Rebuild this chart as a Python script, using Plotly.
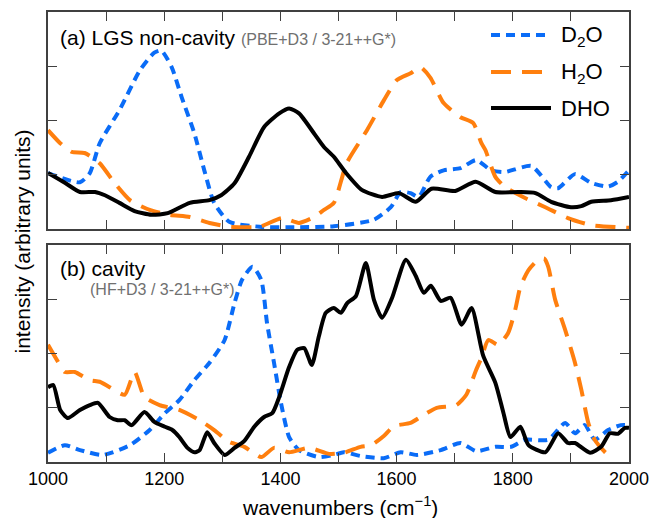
import plotly.graph_objects as go

# ---------------- data ----------------
# (a) LGS non-cavity
a_d2o_x = [1000, 1055, 1072, 1089, 1123, 1158, 1183, 1195, 1213, 1230, 1252, 1269, 1286, 1312, 1364, 1430, 1492,
           1561, 1590, 1607, 1624, 1638, 1658, 1681, 1710, 1737, 1763, 1787, 1832, 1866, 1878, 1907, 1935, 1964, 1981, 2000]
a_d2o_y = [1.03, 0.86, 1.03, 1.58, 2.19, 2.92, 3.25, 3.29, 2.98, 2.43, 1.76, 1.08, 0.48, 0.13, 0.04, 0.03, 0.05,
           0.17, 0.40, 0.68, 0.66, 0.59, 0.96, 1.08, 1.12, 1.27, 1.08, 1.05, 1.16, 0.77, 0.75, 1.01, 0.85, 0.78, 0.87, 1.08]

a_h2o_x = [1000, 1021, 1041, 1063, 1089, 1115, 1141, 1175, 1209, 1244, 1278, 1312, 1364, 1403, 1432, 1458, 1475,
           1492, 1514, 1549, 1578, 1600, 1624, 1641, 1658, 1681, 1710, 1732, 1746, 1753, 1770, 1787, 1821, 1856, 1895, 1935, 2000]
a_h2o_y = [1.82, 1.58, 1.42, 1.40, 1.21, 0.84, 0.53, 0.35, 0.26, 0.22, 0.11, 0.04, 0.04, 0.20, 0.11, 0.22, 0.35,
           0.48, 1.21, 1.82, 2.37, 2.74, 2.87, 2.98, 2.79, 2.32, 2.06, 1.95, 1.58, 1.45, 0.96, 0.77, 0.57, 0.40, 0.20, 0.07, 0.02]

a_dho_x = [1000, 1029, 1055, 1081, 1098, 1123, 1149, 1178, 1206, 1244, 1278, 1298, 1321, 1346, 1372, 1398, 1415, 1432,
           1458, 1475, 1492, 1513, 1540, 1575, 1604, 1633, 1660, 1701, 1736, 1770, 1810, 1839, 1866, 1900, 1918, 1935, 1969, 2000]
a_dho_y = [1.03, 0.85, 0.68, 0.68, 0.62, 0.48, 0.33, 0.26, 0.29, 0.48, 0.53, 0.62, 0.84, 1.33, 1.88, 2.13, 2.22, 2.13,
           1.76, 1.51, 1.33, 1.03, 0.72, 0.59, 0.66, 0.50, 0.74, 0.70, 0.87, 0.68, 0.68, 0.66, 0.50, 0.40, 0.42, 0.50, 0.53, 0.59]

# (b) cavity
b_d2o_x = [1000, 1029, 1055, 1094, 1141, 1175, 1201, 1226, 1252, 1278, 1304, 1321, 1334, 1352, 1367, 1377, 1389, 1401,
           1415, 1432, 1466, 1492, 1509, 1538, 1578, 1607, 1635, 1676, 1710, 1737, 1770, 1797, 1821, 1861, 1890, 1907,
           1924, 1941, 1964, 1986, 2000]
b_d2o_y = [0.17, 0.31, 0.22, 0.13, 0.31, 0.59, 0.90, 1.14, 1.51, 1.83, 2.25, 2.93, 3.36, 3.60, 3.36, 2.56, 1.83, 1.09,
           0.46, 0.22, 0.09, 0.13, 0.18, 0.11, 0.07, 0.18, 0.13, 0.22, 0.35, 0.20, 0.28, 0.28, 0.41, 0.41, 0.72, 0.53,
           0.68, 0.41, 0.59, 0.68, 0.68]

b_h2o_x = [1000, 1017, 1029, 1046, 1072, 1089, 1106, 1132, 1149, 1166, 1192, 1226, 1261, 1286, 1312, 1338, 1367, 1389,
           1415, 1449, 1484, 1509, 1538, 1556, 1578, 1595, 1624, 1647, 1669, 1703, 1720, 1737, 1746, 1758, 1775, 1792,
           1804, 1813, 1827, 1844, 1854, 1861, 1873, 1890, 1907, 1918, 1930, 1941, 1959, 1969]
b_h2o_y = [2.16, 1.85, 1.66, 1.66, 1.51, 1.48, 1.38, 1.24, 1.66, 1.20, 1.05, 0.96, 0.77, 0.59, 0.37, 0.28, 0.09, 0.26,
           0.18, 0.26, 0.15, 0.17, 0.28, 0.31, 0.48, 0.66, 0.72, 0.87, 1.00, 1.05, 1.24, 1.70, 1.92, 2.25, 2.16, 2.38,
           2.80, 3.23, 3.54, 3.73, 3.75, 3.60, 2.99, 2.44, 1.83, 1.33, 0.72, 0.41, 0.18, 0.09]

b_dho_x = [1000, 1009, 1021, 1034, 1055, 1072, 1086, 1106, 1120, 1132, 1144, 1166, 1183, 1201, 1214, 1226, 1240, 1252,
           1261, 1274, 1286, 1304, 1321, 1338, 1355, 1372, 1386, 1398, 1415, 1429, 1441, 1454, 1466, 1478, 1492, 1504,
           1515, 1530, 1547, 1561, 1575, 1592, 1616, 1633, 1647, 1659, 1676, 1693, 1712, 1729, 1749, 1770, 1784, 1796,
           1813, 1827, 1856, 1878, 1895, 1907, 1933, 1952, 1967, 1981, 1993, 2000]
b_dho_y = [1.38, 1.42, 0.96, 0.81, 0.96, 1.05, 1.09, 0.83, 0.77, 0.77, 0.68, 0.92, 0.74, 0.65, 0.59, 0.46, 0.26, 0.18,
           0.22, 0.55, 0.35, 0.13, 0.26, 0.39, 0.65, 0.83, 0.90, 1.20, 1.75, 2.07, 2.10, 1.79, 2.31, 2.75, 2.84, 2.75,
           2.93, 3.06, 3.67, 2.99, 2.66, 3.02, 3.73, 3.43, 3.12, 3.25, 2.97, 3.03, 2.53, 2.84, 1.96, 1.46, 0.90, 0.46,
           0.65, 0.31, 0.18, 0.53, 0.35, 0.35, 0.17, 0.28, 0.53, 0.52, 0.63, 0.63]

x_tickvals = [1000, 1200, 1400, 1600, 1800, 2000]
x_ticktext = ["1000", "1200", "1400", "1600", "1800", "2000"]
y_tickvals = [1, 2, 3]

# ---------------- styling ----------------
BLUE = "#0a6cf7"
ORANGE = "#ff7f0e"
BLACK = "#000000"
FRAME = "#404040"
FONT = "Liberation Sans, Arial, Helvetica, sans-serif"

L, R, T, B = 48, 21, 12, 56
W, H = 650, 518
PW, PH = W - L - R, H - T - B

blue_line = dict(color=BLUE, width=4, dash="9px,6px", shape="spline", smoothing=0.6)
orange_line = dict(color=ORANGE, width=4, dash="20px,11px", shape="spline", smoothing=0.6)
black_line = dict(color=BLACK, width=4, shape="spline", smoothing=0.6)

fig = go.Figure()
# panel (a)
fig.add_trace(go.Scatter(x=a_d2o_x, y=a_d2o_y, mode="lines", line=blue_line, xaxis="x", yaxis="y", showlegend=False))
fig.add_trace(go.Scatter(x=a_h2o_x, y=a_h2o_y, mode="lines", line=orange_line, xaxis="x", yaxis="y", showlegend=False))
fig.add_trace(go.Scatter(x=a_dho_x, y=a_dho_y, mode="lines", line=black_line, xaxis="x", yaxis="y", showlegend=False))
# panel (b)
fig.add_trace(go.Scatter(x=b_d2o_x, y=b_d2o_y, mode="lines", line=blue_line, xaxis="x2", yaxis="y2", showlegend=False))
fig.add_trace(go.Scatter(x=b_h2o_x, y=b_h2o_y, mode="lines", line=orange_line, xaxis="x2", yaxis="y2", showlegend=False))
fig.add_trace(go.Scatter(x=b_dho_x, y=b_dho_y, mode="lines", line=black_line, xaxis="x2", yaxis="y2", showlegend=False))

common_x = dict(range=[1000, 2000], tickvals=x_tickvals, ticks="inside", ticklen=9, tickwidth=1.3,
                tickcolor=FRAME, showline=True, linecolor=FRAME, linewidth=1.6, mirror="ticks",
                showgrid=False, zeroline=False, automargin=False,
                minor=dict(dtick=100, tick0=1000, ticks="inside", ticklen=9, tickwidth=1.3, tickcolor=FRAME,
                           showgrid=False))
common_y = dict(range=[0, 4], tickvals=y_tickvals, showticklabels=False, ticks="inside", ticklen=9,
                tickwidth=1.3, tickcolor=FRAME, showline=True, linecolor=FRAME, linewidth=1.6,
                mirror="ticks", showgrid=False, zeroline=False, automargin=False)

fig.update_layout(
    width=W, height=H,
    margin=dict(l=L, r=R, t=T, b=B, autoexpand=False),
    paper_bgcolor="white", plot_bgcolor="white",
    font=dict(family=FONT, color="black"),
    xaxis=dict(domain=[0, 1], anchor="y", showticklabels=False, **common_x),
    yaxis=dict(domain=[0.518, 1], anchor="x", **common_y),
    xaxis2=dict(domain=[0, 1], anchor="y2", ticktext=x_ticktext, tickfont=dict(size=18, family=FONT),
                ticklabeloverflow="allow", **common_x),
    yaxis2=dict(domain=[0, 0.482], anchor="x2", **common_y),
)

def px_x(px):
    return (px - L) / PW

def px_y(py):
    return (H - B - py) / PH

# panel labels
fig.add_annotation(xref="paper", yref="paper", x=px_x(58), y=px_y(37), xanchor="left", yanchor="middle",
                   text="(a) LGS non-cavity <span style='font-size:16px;color:#707070'>(PBE+D3 / 3-21++G*)</span>",
                   showarrow=False, font=dict(size=21, family=FONT, color="black"))
fig.add_annotation(xref="paper", yref="paper", x=px_x(58), y=px_y(268), xanchor="left", yanchor="middle",
                   text="(b) cavity", showarrow=False, font=dict(size=21, family=FONT, color="black"))
fig.add_annotation(xref="paper", yref="paper", x=px_x(88), y=px_y(289), xanchor="left",
                   yanchor="middle", text="(HF+D3 / 3-21++G*)", showarrow=False,
                   font=dict(size=16, family=FONT, color="#707070"))

# axis titles
fig.add_annotation(xref="paper", yref="paper", x=px_x(22), y=0.49, xanchor="center", yanchor="middle",
                   text="intensity (arbitrary units)", textangle=-90, showarrow=False,
                   font=dict(size=21, family=FONT, color="black"))
fig.add_annotation(xref="paper", yref="paper", x=px_x(340), y=px_y(506), xanchor="center", yanchor="middle",
                   text="wavenumbers (cm<sup>−1</sup>)", showarrow=False,
                   font=dict(size=21, family=FONT, color="black"))

# manual legend (paper coordinates)
legend_items = [("D<sub>2</sub>O", 35, BLUE, "9px,6px"),
                ("H<sub>2</sub>O", 72, ORANGE, "20px,11px"),
                ("DHO", 108, BLACK, "solid")]
for label, py, color, dash in legend_items:
    fig.add_shape(type="line", xref="paper", yref="paper", x0=px_x(491), x1=px_x(551), y0=px_y(py), y1=px_y(py),
                  line=dict(color=color, width=4, dash=dash))
    fig.add_annotation(xref="paper", yref="paper", x=px_x(559), y=px_y(py + 1), xanchor="left", yanchor="middle",
                       text=label, showarrow=False, font=dict(size=22, family=FONT, color="black"))

fig.write_html("out.html", config={"displayModeBar": False},
               post_script="document.body.style.margin='0';document.body.style.padding='0';")
